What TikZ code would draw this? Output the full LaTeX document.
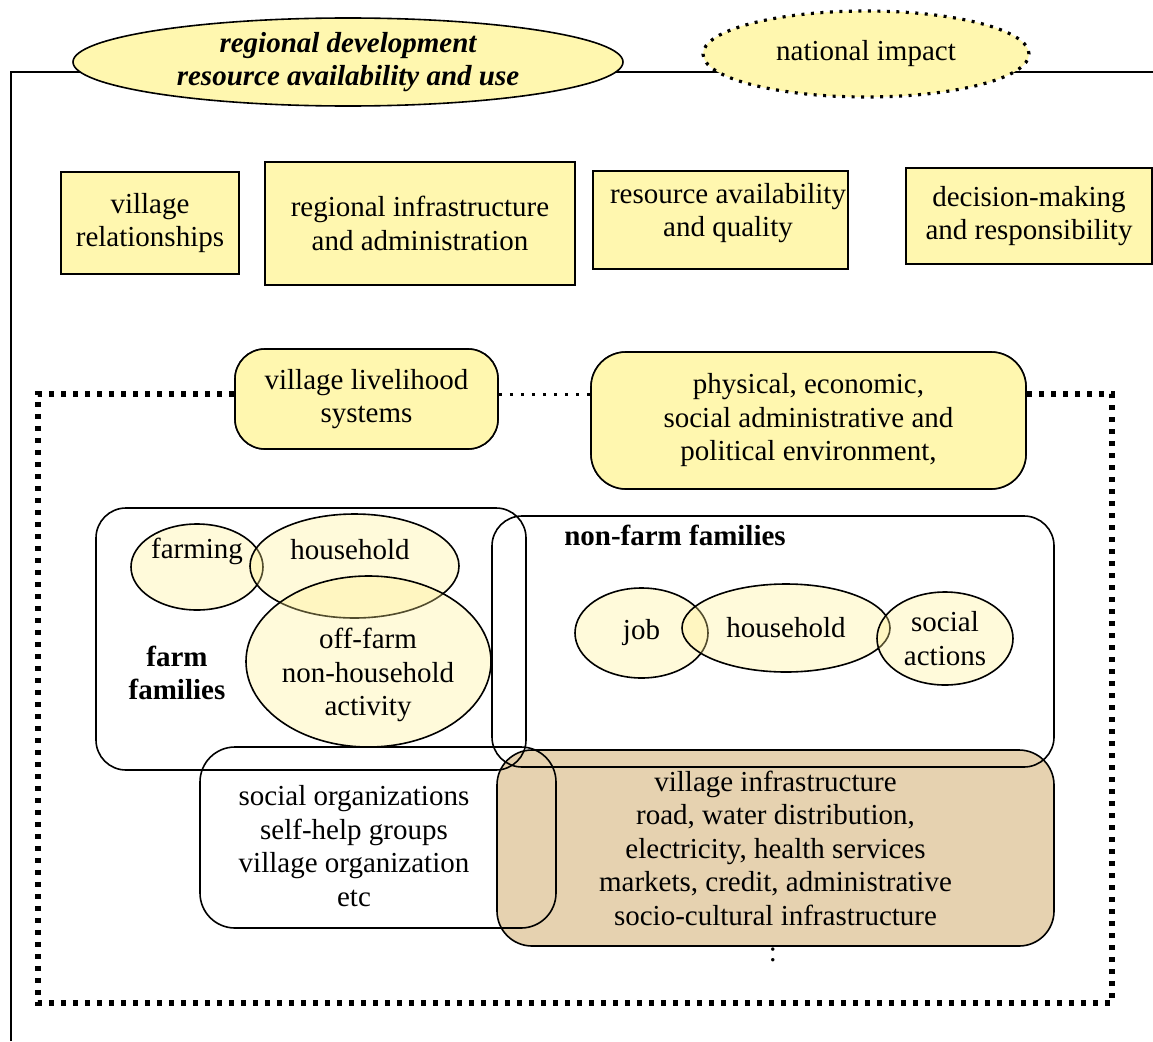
\documentclass[tikz,border=0pt]{standalone}
\usepackage{fontspec}
\setmainfont{Liberation Serif}
\usetikzlibrary{shapes.geometric}
\definecolor{ylw}{RGB}{255,247,175}
\definecolor{infratan}{RGB}{230,210,176}
\definecolor{ovl}{RGB}{255,238,140}
\begin{document}
\begin{tikzpicture}[x=1pt,y=-1pt,
  font=\fontsize{29}{33.5}\selectfont,
  line width=1.6pt,
  ybox/.style={draw, rectangle, fill=ylw, inner sep=0pt, align=center},
  rbox/.style={draw, rectangle, rounded corners=30pt, inner sep=0pt, align=center},
  vell/.style={draw, ellipse, inner sep=0pt, align=center, fill=ovl, fill opacity=0.32, text opacity=1},
  txt/.style={inner sep=0pt, align=center},
  dotbig/.style={line width=5.5pt, dash pattern=on 5.5pt off 6.5pt},
  dotsmall/.style={line width=3pt, dash pattern=on 3pt off 8pt}]
\useasboundingbox (0,0) rectangle (1153,1041);

% outer frame line
\coordinate (oBL) at (11,1041);
\coordinate (oTL) at (11,72);
\coordinate (oTR) at (1153,72);
\draw (oBL) -- (oTL) -- (oTR);

% top ellipses
\node[draw, ellipse, fill=ylw, minimum width=550pt, minimum height=88pt, inner sep=0pt, align=center,
  font=\fontsize{29}{33.5}\selectfont\bfseries\itshape] (reg) at (348,62)
  {regional development\\resource availability and use};
\node[ellipse, fill=ylw, minimum width=326pt, minimum height=86pt, inner sep=0pt] (natfill) at (866,54) {};
\node[ellipse, draw, line width=3.2pt, dash pattern=on 3pt off 6.5pt, minimum width=326pt, minimum height=86pt, inner sep=0pt] (nat) at (866,54) {national impact};

% top boxes
\node[ybox, minimum width=178pt, minimum height=102pt] (vr) at (150,223) {village\\relationships};
\node[ybox, minimum width=310pt, minimum height=123pt] (ri) at (420,223.5) {regional infrastructure\\and administration};
\node[ybox, minimum width=255pt, minimum height=98pt] (ra) at (720.5,220) {};
\node[txt] (ratxt) at (728,213) {resource availability\\and quality};
\node[ybox, minimum width=246pt, minimum height=96pt] (dm) at (1029,216) {decision-making\\and responsibility};

% dotted frame
\node[rbox, fill=ylw, minimum width=263pt, minimum height=100pt] (vl) at (366.5,399) {};
\node[rbox, fill=ylw, rounded corners=35pt, minimum width=435pt, minimum height=137pt] (pe) at (808.5,420.5) {};
\coordinate (dTL) at (38,394);
\coordinate (dTR) at (1112,394);
\coordinate (dBL) at (38,1003);
\coordinate (dBR) at (1112,1003);
\draw[dotbig] (vl.west |- dTL) -- (dTL) -- (dBL) -- (dBR) -- (dTR) -- (pe.east |- dTR);
\draw[dotsmall] (vl.east |- dTL) -- (pe.west |- dTL);
\node[rbox, fill=ylw, minimum width=263pt, minimum height=100pt] (vl2) at (366.5,399) {village livelihood\\systems};
\node[rbox, fill=ylw, rounded corners=35pt, minimum width=435pt, minimum height=137pt] (pe2) at (808.5,420.5)
  {physical, economic,\\social administrative and\\political environment,};

% village infrastructure (filled)
\node[rbox, fill=infratan, rounded corners=35pt, minimum width=557pt, minimum height=196pt] (vi) at (775.5,848)
  {village infrastructure\\road, water distribution,\\electricity, health services\\markets, credit, administrative\\socio-cultural infrastructure};

% outline boxes
\node[rbox, minimum width=430pt, minimum height=262pt] (ff) at (311,639) {};
\node[rbox, minimum width=562pt, minimum height=251pt] (nf) at (773,641.5) {};
\node[rbox, rounded corners=35pt, minimum width=356pt, minimum height=181pt] (so) at (378,837.5) {};

% ellipses farm families
\node[vell, minimum width=132pt, minimum height=86pt] (e1) at (197,567) {};
\node[vell, minimum width=209pt, minimum height=104pt] (e2) at (354.5,566) {};
\node[vell, minimum width=245pt, minimum height=171pt] (e3) at (368.5,661.5) {};
\node[txt] (t1) at (197,551) {farming};
\node[txt] (t2) at (350,550) {household};
\node[txt] (t3) at (368,675) {off-farm\\non-household\\activity};
\node[txt, font=\fontsize{29}{33.5}\selectfont\bfseries] (tff) at (177,673) {farm\\families};

% ellipses non-farm families
\node[txt, font=\fontsize{29}{33.5}\selectfont\bfseries] (tnf) at (675,535) {non-farm families};
\node[vell, minimum width=133pt, minimum height=90pt] (e4) at (641.5,633) {job};
\node[vell, minimum width=208pt, minimum height=88pt] (e5) at (786,628) {household};
\node[vell, minimum width=136pt, minimum height=93pt] (e6) at (945,638.5) {social\\actions};

% social organizations text
\node[txt] (tso) at (354,846) {social organizations\\self-help groups\\village organization\\etc};
\node[txt] (colon) at (773,955) {:};
\end{tikzpicture}
\end{document}
